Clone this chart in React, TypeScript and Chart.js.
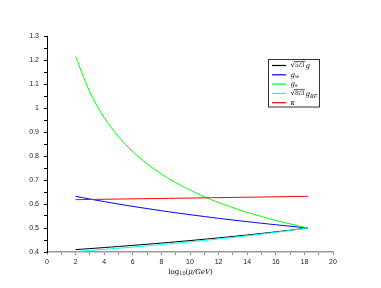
import React, { useEffect, useRef } from "react";
import { Chart, registerables } from "chart.js";

Chart.register(...registerables);

const xValues = [2, 3, 4, 5, 6, 7, 8, 9, 10, 11, 12, 13, 14, 15, 16, 17, 18, 18.25];
const gPrime = [0.41, 0.4142, 0.4185, 0.423, 0.4276, 0.4324, 0.4373, 0.4424, 0.4477, 0.4532, 0.4589, 0.4648, 0.4709, 0.4773, 0.484, 0.4909, 0.4982, 0.5];
const gW = [0.632, 0.6206, 0.61, 0.5998, 0.59, 0.581, 0.572, 0.5635, 0.5555, 0.5477, 0.5403, 0.5332, 0.5264, 0.5198, 0.5135, 0.5073, 0.5014, 0.5];
const gS = [1.215, 1.065, 0.96, 0.88, 0.818, 0.767, 0.725, 0.689, 0.658, 0.63, 0.606, 0.585, 0.565, 0.548, 0.531, 0.517, 0.503, 0.5];
const gDouble = [0.402, 0.4065, 0.411, 0.4158, 0.4207, 0.4258, 0.4311, 0.4366, 0.4424, 0.4483, 0.4545, 0.461, 0.4677, 0.4747, 0.4821, 0.4898, 0.4979, 0.5];
const kappa = [0.618, 0.6189, 0.6197, 0.6206, 0.6214, 0.6223, 0.6231, 0.624, 0.6248, 0.6257, 0.6265, 0.6274, 0.6283, 0.6291, 0.63, 0.6309, 0.6318, 0.632];

const seriesNames = ["√5/3 g", "g_w", "g_s", "√8/3 g_BF", "κ"];
const seriesColors = ["#000000", "#0000ff", "#00ff00", "#00ffff", "#ff0000"];
const seriesValues = [gPrime, gW, gS, gDouble, kappa];

const yMin = 0.4;
const yMax = 1.3;
const xMin = 0;
const xMax = 20;

const serif = "'DejaVu Serif', 'Liberation Serif', serif";

function drawSub(ctx: CanvasRenderingContext2D, label: string, x: number, y: number) {
  if (label.includes("_")) {
    const [base, sub] = label.split("_");
    ctx.font = `italic 7px ${serif}`;
    ctx.fillText(base, x, y);
    const w = ctx.measureText(base).width;
    ctx.font = `italic 5px ${serif}`;
    ctx.fillText(sub, x + w, y + 2);
  } else {
    ctx.font = `italic 7px ${serif}`;
    ctx.fillText(label, x, y);
  }
}

function drawLabel(ctx: CanvasRenderingContext2D, label: string, x: number, y: number) {
  ctx.textBaseline = "middle";
  ctx.textAlign = "left";
  if (label.startsWith("√")) {
    const frac = label.slice(1, 4);
    const rest = label.slice(5);
    ctx.font = `7px ${serif}`;
    ctx.fillText("√", x, y);
    let cx = x + ctx.measureText("√").width;
    ctx.font = `6px ${serif}`;
    const fw = ctx.measureText(frac).width;
    ctx.fillText(frac, cx, y);
    ctx.beginPath();
    ctx.moveTo(cx - 0.5, y - 4);
    ctx.lineTo(cx + fw + 0.5, y - 4);
    ctx.lineWidth = 0.6;
    ctx.strokeStyle = "#000";
    ctx.stroke();
    cx += fw + 1;
    drawSub(ctx, rest, cx, y + 1);
  } else {
    drawSub(ctx, label, x, y);
  }
}

const overlayPlugin = {
  id: "overlay",
  afterDraw(chart: any) {
    const ctx: CanvasRenderingContext2D = chart.ctx;
    const xs = chart.scales.x;
    ctx.save();
    const bx = 268.5, by = 59.5, bw = 51, bh = 47.5;
    ctx.fillStyle = "#fff";
    ctx.fillRect(bx, by, bw, bh);
    ctx.strokeStyle = "#333";
    ctx.lineWidth = 1;
    ctx.strokeRect(bx, by, bw, bh);
    seriesNames.forEach((name, i) => {
      const ry = 65.5 + i * 9.3;
      ctx.beginPath();
      ctx.moveTo(272, ry);
      ctx.lineTo(286, ry);
      ctx.strokeStyle = seriesColors[i];
      ctx.lineWidth = 1.2;
      ctx.stroke();
      ctx.fillStyle = "#000";
      drawLabel(ctx, name, 290.5, ry);
    });
    const cx = (xs.left + xs.right) / 2 + 0.5;
    const ty = 272;
    ctx.fillStyle = "#000";
    ctx.textBaseline = "middle";
    ctx.textAlign = "left";
    ctx.font = `7px ${serif}`;
    const p1 = "log";
    const p3 = "(";
    const p4 = "μ/GeV";
    const p5 = ")";
    const w1 = ctx.measureText(p1).width;
    const w3 = ctx.measureText(p3).width;
    const w5 = ctx.measureText(p5).width;
    ctx.font = `5px ${serif}`;
    const w2 = ctx.measureText("10").width;
    ctx.font = `italic 7px ${serif}`;
    const w4 = ctx.measureText(p4).width;
    let x0 = cx - (w1 + w2 + w3 + w4 + w5) / 2;
    ctx.font = `7px ${serif}`;
    ctx.fillText(p1, x0, ty);
    x0 += w1;
    ctx.font = `5px ${serif}`;
    ctx.fillText("10", x0, ty + 2);
    x0 += w2;
    ctx.font = `7px ${serif}`;
    ctx.fillText(p3, x0, ty);
    x0 += w3;
    ctx.font = `italic 7px ${serif}`;
    ctx.fillText(p4, x0, ty);
    x0 += w4;
    ctx.font = `7px ${serif}`;
    ctx.fillText(p5, x0, ty);
    ctx.restore();
  },
};

export default function App() {
  const ref = useRef<HTMLCanvasElement | null>(null);
  useEffect(() => {
    if (!ref.current) return;
    const chart = new Chart(ref.current, {
      type: "line",
      data: {
        datasets: seriesValues.map((vals, i) => ({
          label: seriesNames[i],
          data: xValues.map((x, j) => ({ x, y: vals[j] })),
          borderColor: seriesColors[i],
          backgroundColor: seriesColors[i],
          borderWidth: 1,
          pointRadius: 0,
          tension: 0.3,
          fill: false,
          order: 5 - i,
        })),
      },
      options: {
        responsive: false,
        animation: false,
        layout: { padding: { top: 36, right: 48, left: 0, bottom: 0 } },
        plugins: { legend: { display: false }, tooltip: { enabled: false } },
        scales: {
          x: {
            type: "linear",
            min: xMin,
            max: xMax,
            afterFit: (s: any) => { s.height = 36; },
            border: { color: "#999", width: 1.5 },
            grid: { drawOnChartArea: false, tickLength: 3, color: "#888" },
            ticks: {
              stepSize: 1,
              padding: 3,
              autoSkip: false,
              maxRotation: 0,
              color: "#222",
              font: { size: 7, family: "'Liberation Sans', Arial, sans-serif" },
              callback: (v: any) => (Number(v) % 2 === 0 ? String(v) : ""),
            },
          },
          y: {
            min: yMin,
            max: yMax,
            afterFit: (s: any) => { s.width = 47; },
            border: { color: "#000", width: 1 },
            grid: { drawOnChartArea: false, tickLength: 3, color: "#000" },
            ticks: {
              stepSize: 0.05,
              padding: 5,
              autoSkip: false,
              color: "#222",
              font: { size: 7, family: "'Liberation Sans', Arial, sans-serif" },
              callback: (v: any) => {
                const n = Math.round(Number(v) * 100);
                return n % 10 === 0 ? String(n / 100) : "";
              },
            },
          },
        },
      },
      plugins: [overlayPlugin],
    });
    return () => chart.destroy();
  }, []);
  return (
    <div style={{ position: "fixed", left: 0, top: 0, width: 381, height: 288, background: "#fff" }}>
      <canvas ref={ref} width={381} height={288} style={{ display: "block" }} />
    </div>
  );
}
